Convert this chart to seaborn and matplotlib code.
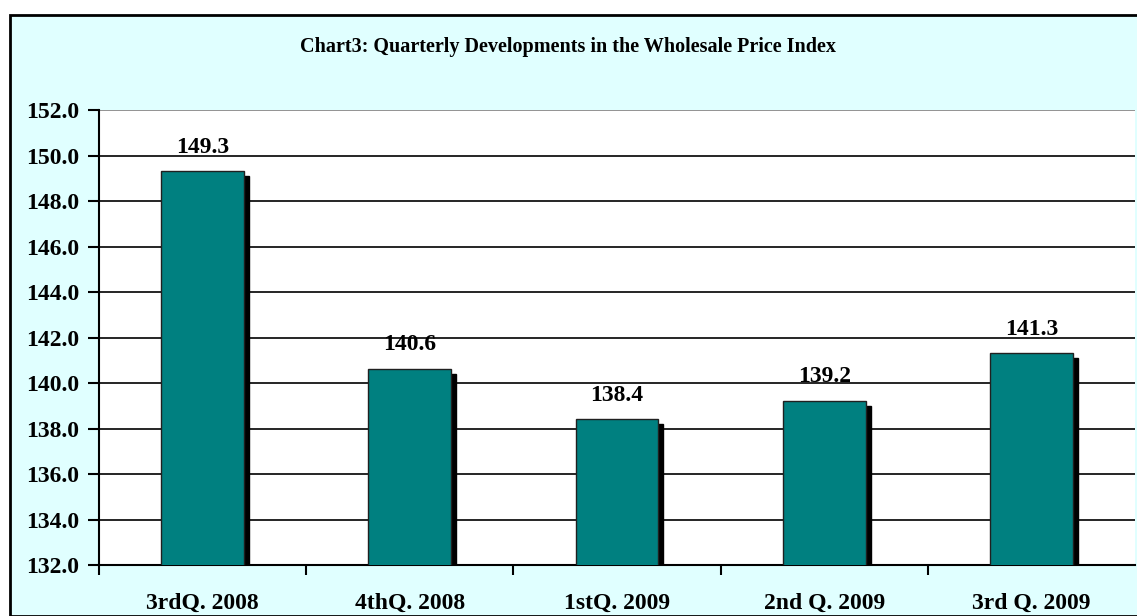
import matplotlib
matplotlib.use("Agg")
import matplotlib.pyplot as plt
import matplotlib.transforms as mtransforms
from matplotlib.patches import Rectangle
import seaborn as sns
import pandas as pd

categories = ["3rdQ. 2008", "4thQ. 2008", "1stQ. 2009", "2nd Q. 2009", "3rd Q. 2009"]
values = [149.3, 140.6, 138.4, 139.2, 141.3]
yticks = [132.0, 134.0, 136.0, 138.0, 140.0, 142.0, 144.0, 146.0, 148.0, 150.0, 152.0]
title = "Chart3: Quarterly Developments in the Wholesale Price Index"

sns.set_theme(style="white")
plt.rcParams['font.family'] = ['Liberation Serif', 'DejaVu Serif']
plt.rcParams['text.color'] = 'black'
plt.rcParams['xtick.color'] = 'black'
plt.rcParams['ytick.color'] = 'black'
plt.rcParams['axes.labelcolor'] = 'black'

df = pd.DataFrame({"q": categories, "v": values})

fig = plt.figure(figsize=(11.37, 6.16), dpi=100)
fig.patch.set_facecolor("white")
bg = Rectangle((10/1137, 0), 1.0, (616-15)/616, transform=fig.transFigure,
               facecolor="#E0FFFF", edgecolor="black", linewidth=2, zorder=-10)
fig.patches.append(bg)
ax = fig.add_axes([99/1137, 51/616, (1135-99)/1137, (565-110)/616])
ax.set_zorder(5)
ax.set_facecolor("white")

# shadow bars
sns.barplot(data=df, x="q", y="v", color="black", width=0.4, saturation=1, ax=ax, zorder=2)
shadow = list(ax.patches)
off = mtransforms.offset_copy(ax.transData, fig=fig, x=5, y=-5, units="dots")
for p in shadow:
    p.set_transform(off)
    p.set_edgecolor("black")

sns.barplot(data=df, x="q", y="v", color="#008080", width=0.4, saturation=1, ax=ax, zorder=3,
            edgecolor="#202020", linewidth=1)
bars = ax.containers[-1]
ax.bar_label(bars, labels=[f"{v:.1f}" for v in values], padding=10, fontsize=17,
             fontweight="bold", color="black")

ax.set_ylim(132, 152)
ax.set_yticks(yticks)
ax.set_yticklabels([f"{t:.1f}" for t in yticks], fontsize=17, fontweight="bold")
ax.set_xticks(range(len(categories)))
ax.set_xticklabels(categories, fontsize=17, fontweight="bold")
ax.set_xlim(-0.5, len(categories) - 0.5)
ax.set_xlabel("")
ax.set_ylabel("")
for t in yticks[1:]:
    ax.axhline(t, color="black" if t < 152 else "#808080", linewidth=1.2, zorder=1)
for s in ["top", "right"]:
    ax.spines[s].set_visible(False)
for s in ["left", "bottom"]:
    ax.spines[s].set_color("black")
    ax.spines[s].set_linewidth(1.5)
ax.tick_params(axis="y", which="major", length=8, width=1.5, color="black", left=True, pad=6)
ax.tick_params(axis="x", which="major", length=0, pad=20)
ax.set_xticks([i + 0.5 for i in range(-1, len(categories) - 1)], minor=True)
ax.tick_params(axis="x", which="minor", length=7, width=1.5, color="black", bottom=True, direction="out")

fig.text(0.5, (616-47)/616, title, ha="center", va="center", fontsize=14.5, fontweight="bold", color="black")

fig.savefig("out.png", dpi=100)
